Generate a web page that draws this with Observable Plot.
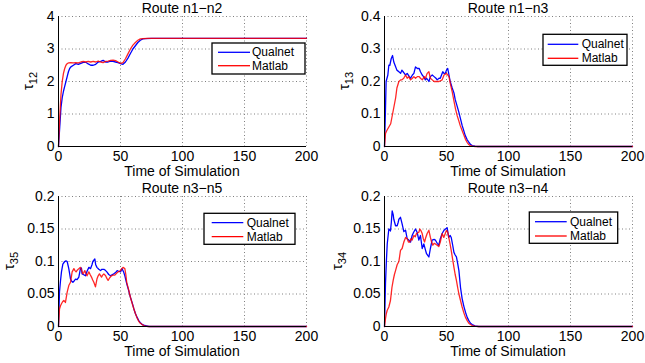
<!DOCTYPE html>
<html>
<head>
<meta charset="utf-8">
<script src="https://cdn.jsdelivr.net/npm/d3@7"></script>
<script src="https://cdn.jsdelivr.net/npm/@observablehq/plot@0.6"></script>
<style>
  html, body { margin: 0; padding: 0; background: #fff; }
  #chart { position: relative; width: 645px; height: 363px; overflow: hidden; background: #fff; }
  .panel { position: absolute; }
</style>
</head>
<body>
<div id="chart"></div>
<script>
// ---------- data (time, value) ----------
const xTicks = [0, 50, 100, 150, 200];
const seriesNames = ["Qualnet", "Matlab"];
const titles = ["Route n1−n2", "Route n1−n3", "Route n3−n5", "Route n3−n4"];
const ySubs = ["12", "13", "35", "34"];
const yTicks12 = [0, 1, 2, 3, 4];
const yTicks13 = [0, 0.1, 0.2, 0.3, 0.4];
const yTicks35 = [0, 0.05, 0.1, 0.15, 0.2];
const yTicks34 = [0, 0.05, 0.1, 0.15, 0.2];

const qualnet12 = [[0,0],[1,0.6],[2,1.2],[3,1.5],[4,1.7],[5,1.85],[6,2.0],[7,2.15],[8,2.3],[9,2.4],[10,2.45],[12,2.5],[14,2.55],[16,2.53],[18,2.56],[20,2.59],[22,2.59],[24,2.54],[26,2.5],[28,2.5],[30,2.53],[32,2.6],[34,2.62],[36,2.65],[38,2.6],[40,2.6],[42,2.63],[44,2.62],[46,2.6],[48,2.58],[50,2.55],[52,2.53],[54,2.6],[56,2.72],[58,2.86],[60,3.0],[62,3.1],[64,3.2],[66,3.27],[68,3.31],[70,3.32],[75,3.33],[200,3.33]];
const matlab12 = [[0,0],[1,0.9],[2,1.6],[3,2.0],[4,2.25],[5,2.4],[6,2.5],[7,2.55],[8,2.57],[10,2.58],[12,2.57],[14,2.58],[16,2.57],[18,2.6],[20,2.62],[22,2.6],[24,2.62],[26,2.6],[28,2.62],[30,2.6],[32,2.63],[34,2.6],[36,2.58],[38,2.62],[40,2.63],[42,2.65],[44,2.66],[46,2.64],[48,2.6],[50,2.56],[52,2.58],[54,2.7],[56,2.85],[58,3.0],[60,3.12],[62,3.2],[64,3.27],[66,3.31],[68,3.32],[72,3.33],[200,3.33]];

const qualnet13 = [[0,0],[0.7,0.1],[1.3,0.2],[2.7,0.22],[3.5,0.25],[4.3,0.25],[5.4,0.27],[6.5,0.28],[7.5,0.26],[8.5,0.25],[10,0.235],[11.6,0.23],[13,0.225],[14,0.235],[15,0.23],[16,0.225],[17,0.22],[18.3,0.225],[20,0.215],[21,0.21],[22.5,0.22],[23.7,0.225],[25,0.245],[26.5,0.24],[28,0.24],[29,0.23],[30.4,0.22],[31.5,0.215],[33,0.205],[34,0.21],[35.8,0.2],[37,0.215],[38.5,0.22],[40,0.215],[41.5,0.21],[42.5,0.205],[44,0.21],[45,0.21],[46,0.22],[47,0.23],[48,0.225],[49,0.225],[50,0.235],[51,0.24],[52,0.22],[53,0.2],[54.6,0.18],[56,0.165],[57,0.145],[58.5,0.125],[60,0.105],[61.3,0.085],[62.6,0.065],[64,0.048],[65,0.035],[66.5,0.022],[68,0.013],[69.5,0.006],[70.7,0.003],[73,0.001],[75,0],[200,0]];
const matlab13 = [[0,0],[0.8,0.04],[2,0.05],[3.5,0.06],[5,0.07],[6,0.09],[7.5,0.12],[9,0.15],[10,0.18],[11.6,0.2],[13,0.205],[14,0.205],[15.5,0.21],[17,0.22],[18.3,0.21],[19.5,0.215],[21,0.205],[22.5,0.21],[23.7,0.215],[25,0.21],[26.5,0.215],[28,0.215],[29,0.21],[30.5,0.205],[32,0.215],[33,0.21],[34.4,0.225],[35.8,0.23],[37,0.21],[38.5,0.205],[40,0.2],[42,0.2],[44,0.2],[46.5,0.205],[48,0.22],[50,0.225],[52,0.215],[53,0.195],[54.5,0.17],[56,0.14],[57.3,0.115],[58.6,0.095],[60,0.078],[61,0.065],[62.5,0.05],[64,0.035],[65.3,0.022],[66.6,0.013],[68,0.006],[69,0.003],[71,0.001],[73,0],[200,0]];

const qualnet35 = [[0,0],[0.8,0.053],[1.6,0.07],[2.4,0.084],[3.5,0.096],[5,0.1],[6,0.101],[7,0.1],[8.3,0.089],[9.7,0.073],[10.5,0.07],[11.6,0.068],[12.6,0.07],[13.7,0.073],[15,0.072],[16.4,0.076],[17.7,0.089],[18.5,0.09],[19,0.081],[20,0.08],[21.8,0.078],[23,0.085],[24.5,0.091],[25.8,0.089],[27,0.095],[27.7,0.1],[29.3,0.104],[30,0.095],[31,0.091],[32.5,0.088],[33.9,0.086],[35,0.088],[36.6,0.088],[38,0.086],[39,0.084],[40.5,0.08],[42,0.078],[43.5,0.08],[44.6,0.081],[46,0.083],[47.3,0.086],[48.5,0.085],[50,0.084],[51.3,0.089],[52.5,0.084],[53.5,0.078],[55,0.066],[56.5,0.056],[58,0.045],[59.5,0.036],[60.8,0.027],[62,0.02],[63.4,0.014],[64.7,0.009],[66,0.006],[67.5,0.003],[68.8,0.002],[71,0.001],[73,0],[200,0]];
const matlab35 = [[0,0],[0.8,0.027],[1.6,0.032],[2.4,0.035],[3.3,0.038],[4.3,0.04],[5.6,0.037],[7,0.053],[8.3,0.063],[9.7,0.068],[11,0.084],[12.4,0.089],[13.3,0.086],[14.2,0.084],[15.3,0.087],[16.4,0.089],[17.7,0.091],[18.6,0.087],[19.6,0.081],[20.4,0.083],[21.2,0.086],[22,0.082],[23,0.078],[24.5,0.084],[25.5,0.08],[26.6,0.076],[27.5,0.072],[28.5,0.068],[29.8,0.061],[31,0.073],[32,0.078],[33,0.081],[34.7,0.076],[35.6,0.079],[36.6,0.081],[38,0.078],[39,0.074],[40,0.071],[41.3,0.075],[42.7,0.078],[44,0.079],[45.4,0.079],[46.8,0.082],[48,0.084],[49,0.085],[50,0.086],[51,0.089],[52,0.091],[53.5,0.089],[54.3,0.08],[55,0.068],[56.5,0.057],[58,0.045],[59.5,0.035],[60.8,0.027],[62,0.02],[63.4,0.013],[64.7,0.008],[66,0.005],[67.5,0.003],[69,0.001],[72,0],[200,0]];

const qualnet34 = [[0,0],[0.8,0.066],[1.5,0.1],[2.2,0.127],[3.5,0.15],[4.8,0.147],[5.5,0.16],[6.2,0.178],[7,0.172],[7.5,0.165],[8.9,0.155],[10.2,0.155],[11,0.16],[11.6,0.165],[12.9,0.168],[14.2,0.158],[15.6,0.146],[17,0.148],[18.3,0.135],[19.5,0.133],[21,0.13],[22.3,0.14],[23.5,0.145],[25,0.15],[26.3,0.145],[27.7,0.133],[29,0.14],[30.4,0.12],[31.7,0.127],[33,0.118],[33.9,0.112],[35,0.109],[35.8,0.107],[37,0.12],[38.4,0.133],[40,0.134],[41,0.133],[42.5,0.128],[43.8,0.125],[45,0.135],[46.5,0.143],[48,0.148],[49.2,0.15],[50.5,0.152],[51.8,0.137],[53,0.14],[53.8,0.137],[55,0.125],[56,0.114],[57,0.11],[58,0.107],[59,0.097],[60,0.086],[61.3,0.06],[62.6,0.043],[64,0.031],[65.3,0.022],[66.7,0.014],[68,0.009],[69.4,0.005],[70.7,0.003],[73,0.001],[76,0],[200,0]];
const matlab34 = [[0,0],[0.8,0.012],[1.5,0.02],[2.2,0.025],[3.5,0.03],[4.8,0.04],[6,0.06],[7,0.071],[8,0.08],[8.9,0.086],[10.2,0.095],[11.6,0.1],[12.9,0.117],[14.2,0.12],[15.6,0.13],[17,0.137],[18.3,0.135],[19.3,0.13],[20.4,0.13],[21.3,0.135],[22.3,0.133],[23.7,0.14],[24.8,0.138],[25.8,0.143],[27.7,0.145],[28.5,0.15],[29.5,0.147],[30.4,0.143],[31.3,0.135],[32.3,0.13],[33.3,0.137],[34.4,0.143],[35.8,0.148],[37,0.137],[38,0.13],[39,0.125],[40,0.128],[41,0.127],[42.5,0.125],[43.8,0.123],[45,0.13],[46.5,0.143],[47.8,0.137],[49,0.143],[50,0.148],[51,0.145],[51.8,0.137],[52.8,0.128],[53.8,0.117],[55,0.103],[56,0.091],[57,0.08],[58,0.071],[59,0.06],[60,0.05],[61.3,0.04],[62.6,0.03],[64,0.021],[65.3,0.014],[66.7,0.009],[68,0.005],[69.4,0.003],[70.7,0.0015],[73,0.0005],[75,0],[200,0]];

// ---------- layout ----------
const FONT = "'Liberation Sans', Arial, Helvetica, sans-serif";
const BLUE = "#0000ff", RED = "#ff0000";
const panels = [
  {left:0,   top:0,   w:320, h:180, mL:58, mR:14, mT:16, mB:34, yMax:4,   ticks:yTicks12, q:qualnet12, m:matlab12, ylx:33,
   lg:{x:212, y:43, w:93, h:31, x1:218, x2:250, yb:52.3, yr:65.7, tx:252}},
  {left:320, top:0,   w:325, h:180, mL:64, mR:13, mT:16, mB:34, yMax:0.4, ticks:yTicks13, q:qualnet13, m:matlab13, ylx:29,
   lg:{x:223, y:34.3, w:84, h:31, x1:227.7, x2:258.3, yb:44.3, yr:58.3, tx:261.7}},
  {left:0,   top:180, w:320, h:183, mL:58, mR:14, mT:16, mB:37, yMax:0.2, ticks:yTicks35, q:qualnet35, m:matlab35, ylx:14,
   lg:{x:204, y:33.3, w:91, h:31, x1:211.7, x2:243.3, yb:42.7, yr:56.7, tx:246.7}},
  {left:320, top:180, w:325, h:183, mL:64, mR:13, mT:16, mB:37, yMax:0.2, ticks:yTicks34, q:qualnet34, m:matlab34, ylx:22,
   lg:{x:209.3, y:32, w:88.4, h:31.3, x1:215, x2:246.7, yb:41.7, yr:56, tx:250}}
];

const chart = document.getElementById("chart");
const fmt = d3.format("~g");

panels.forEach((p, i) => {
  const q = p.q.map(([t, v]) => ({t, v}));
  const m = p.m.map(([t, v]) => ({t, v}));
  const svg = Plot.plot({
    width: p.w, height: p.h,
    marginLeft: p.mL, marginRight: p.mR, marginTop: p.mT, marginBottom: p.mB,
    style: {fontFamily: FONT, fontSize: "14px", background: "transparent", color: "#000", overflow: "visible"},
    x: {domain: [0, 200], ticks: xTicks, tickSize: 0, tickPadding: 5, label: null, tickFormat: fmt},
    y: {domain: [0, p.yMax], ticks: p.ticks, tickSize: 0, tickPadding: 4, label: null, tickFormat: fmt},
    marks: [
      Plot.ruleX(xTicks, {stroke: "#808080", strokeDasharray: "1,2.5", strokeWidth: 1}),
      Plot.ruleY(p.ticks, {stroke: "#808080", strokeDasharray: "1,2.5", strokeWidth: 1}),
      Plot.line(q, {x: "t", y: "v", stroke: BLUE, strokeWidth: 1.3}),
      Plot.line(m, {x: "t", y: "v", stroke: RED, strokeWidth: 1.3, strokeOpacity: 0.85}),
      Plot.ruleX([0], {stroke: "#000", strokeWidth: 1}),
      Plot.ruleY([0], {stroke: "#000", strokeWidth: 1})
    ]
  });
  const div = document.createElement("div");
  div.className = "panel";
  div.style.left = p.left + "px";
  div.style.top = p.top + "px";
  div.appendChild(svg);
  chart.appendChild(div);

  const s = d3.select(svg);
  const cx = p.mL + (p.w - p.mL - p.mR) / 2;
  const cy = p.mT + (p.h - p.mT - p.mB) / 2;
  const bottom = p.h - p.mB;
  // title
  s.append("text").attr("x", cx).attr("y", 12.5).attr("text-anchor", "middle")
    .attr("font-family", FONT).attr("font-size", 14).attr("fill", "#000").text(titles[i]);
  // x label
  s.append("text").attr("x", cx).attr("y", bottom + 30).attr("text-anchor", "middle")
    .attr("font-family", FONT).attr("font-size", 14).attr("fill", "#000").text("Time of Simulation");
  // y label
  const yl = s.append("text").attr("transform", `translate(${p.ylx},${cy}) rotate(-90)`)
    .attr("text-anchor", "middle").attr("font-family", FONT).attr("fill", "#000");
  yl.append("tspan").attr("font-size", 15).text("τ");
  yl.append("tspan").attr("font-size", 11).attr("dy", 4).text(ySubs[i]);
  // legend
  const L = p.lg;
  const g = s.append("g");
  g.append("rect").attr("x", L.x).attr("y", L.y).attr("width", L.w).attr("height", L.h)
    .attr("fill", "#fff").attr("stroke", "#000").attr("stroke-width", 1.3);
  [[L.yb, BLUE, seriesNames[0]], [L.yr, RED, seriesNames[1]]].forEach(([yy, c, name]) => {
    g.append("line").attr("x1", L.x1).attr("x2", L.x2).attr("y1", yy).attr("y2", yy)
      .attr("stroke", c).attr("stroke-width", 1.3);
    g.append("text").attr("x", L.tx).attr("y", yy + 4).attr("text-anchor", "start")
      .attr("font-family", FONT).attr("font-size", 12).attr("fill", "#000").text(name);
  });
});
</script>
</body>
</html>
